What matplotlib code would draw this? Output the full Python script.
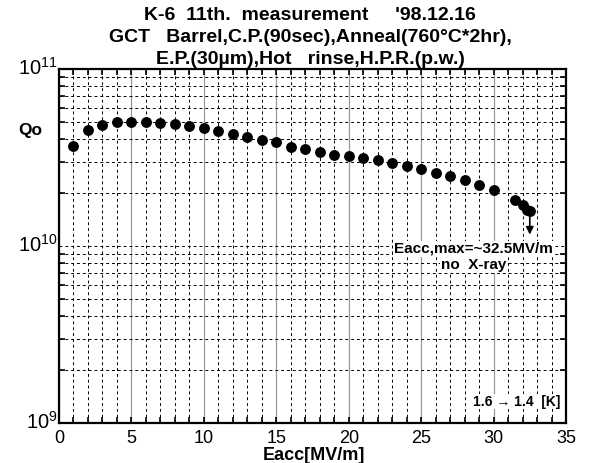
import matplotlib
matplotlib.use('Agg')
import matplotlib.pyplot as plt
import matplotlib.transforms as mtransforms
from matplotlib.ticker import MultipleLocator, LogLocator, NullFormatter, FixedLocator

# Data
eacc = [1, 2, 3, 4, 5, 6, 7, 8, 9, 10, 11, 12, 13, 14, 15, 16, 17, 18, 19, 20,
        21, 22, 23, 24, 25, 26, 27, 28, 29, 30, 31.5, 32, 32.3, 32.5]
qo = [3.67e10, 4.50e10, 4.81e10, 5.00e10, 5.04e10, 5.02e10, 4.97e10, 4.89e10,
      4.76e10, 4.62e10, 4.45e10, 4.28e10, 4.15e10, 3.95e10, 3.85e10, 3.63e10,
      3.53e10, 3.41e10, 3.27e10, 3.24e10, 3.14e10, 3.05e10, 2.93e10, 2.83e10,
      2.71e10, 2.57e10, 2.48e10, 2.35e10, 2.21e10, 2.07e10, 1.81e10, 1.70e10,
      1.60e10, 1.58e10]
xticks = [0, 5, 10, 15, 20, 25, 30, 35]
title_lines = ["K-6  11th.  measurement     '98.12.16",
               "GCT   Barrel,C.P.(90sec),Anneal(760\u00b0C*2hr),",
               "E.P.(30\u00b5m),Hot   rinse,H.P.R.(p.w.)"]

plt.rcParams['font.family'] = ['Liberation Sans', 'DejaVu Sans']
plt.rcParams['mathtext.fontset'] = 'custom'
plt.rcParams['mathtext.rm'] = 'Liberation Sans'

fig = plt.figure(figsize=(5.93, 4.63), dpi=100)
ax = fig.add_axes([59/593, 1 - 423/463, (566 - 59)/593, (423 - 69)/463])

ax.set_yscale('log')
ax.set_xlim(0, 35)
ax.set_ylim(1e9, 1e11)

# grid: solid light lines every 5 on x, dashed elsewhere
ax.xaxis.set_major_locator(FixedLocator(xticks))
ax.xaxis.set_minor_locator(MultipleLocator(1))
ax.yaxis.set_major_locator(LogLocator(base=10))
ax.yaxis.set_minor_locator(LogLocator(base=10, subs=range(2, 10)))
ax.yaxis.set_minor_formatter(NullFormatter())
ax.grid(which='major', axis='x', color='#999999', lw=0.9, ls='-')
ax.grid(which='major', axis='y', color='black', lw=0.7, ls=(0, (3, 3)))
ax.grid(which='minor', color='black', lw=0.7, ls=(0, (3, 3)))
ax.set_axisbelow(True)

ax.set_xticks(xticks)
ax.set_xticklabels([str(t) for t in xticks], fontsize=13)
ax.set_yticks([1e9, 1e10, 1e11])
ax.set_yticklabels(['$10^{9}$', '$10^{10}$', '$10^{11}$'], fontsize=14.5)
ax.tick_params(which='both', direction='in', top=True, right=True,
               length=4, width=1.2)
ax.tick_params(axis='x', which='major', pad=5)
ax.tick_params(axis='y', which='major', length=0, pad=1)
for s in ax.spines.values():
    s.set_linewidth(1.6)

# lift the y labels a little so 10^9 clears the 0 below it
lift = mtransforms.ScaledTranslation(0, 3/100, fig.dpi_scale_trans)
for lab in ax.get_yticklabels():
    lab.set_transform(lab.get_transform() + lift)

ax.plot(eacc, qo, 'o', color='black', markersize=6.8, zorder=5)

ax.annotate('', xy=(32.5, 1.16e10), xytext=(32.5, 1.5e10),
            arrowprops=dict(arrowstyle='-|>', color='black', lw=1.2,
                            mutation_scale=11, shrinkA=0, shrinkB=0), zorder=7)
ax.text(28.6, 0.965e10, 'Eacc,max=~32.5MV/m', ha='center', va='center',
        fontsize=11, fontweight='bold',
        bbox=dict(facecolor='white', edgecolor='none', pad=0.5), zorder=6)
ax.text(28.6, 0.78e10, 'no  X-ray', ha='center', va='center',
        fontsize=11, fontweight='bold',
        bbox=dict(facecolor='white', edgecolor='none', pad=0.5), zorder=6)
ax.text(34.6, 1.32e9, '1.6 \u2192 1.4  [K]', ha='right', va='center',
        fontsize=10, fontweight='bold',
        bbox=dict(facecolor='white', edgecolor='none', pad=0.5), zorder=6)

for i, line in enumerate(title_lines):
    fig.text(310/593, 1 - (15 + 22*i)/463, line, ha='center', va='center',
             fontsize=14, fontweight='bold')

fig.text(30/593, 1 - 130/463, 'Qo', ha='center', va='center',
         fontsize=12.5, fontweight='bold')
fig.text(314/593, 1 - 456/463, 'Eacc[MV/m]', ha='center', va='center',
         fontsize=13, fontweight='bold')

fig.savefig('out.png', dpi=100)
